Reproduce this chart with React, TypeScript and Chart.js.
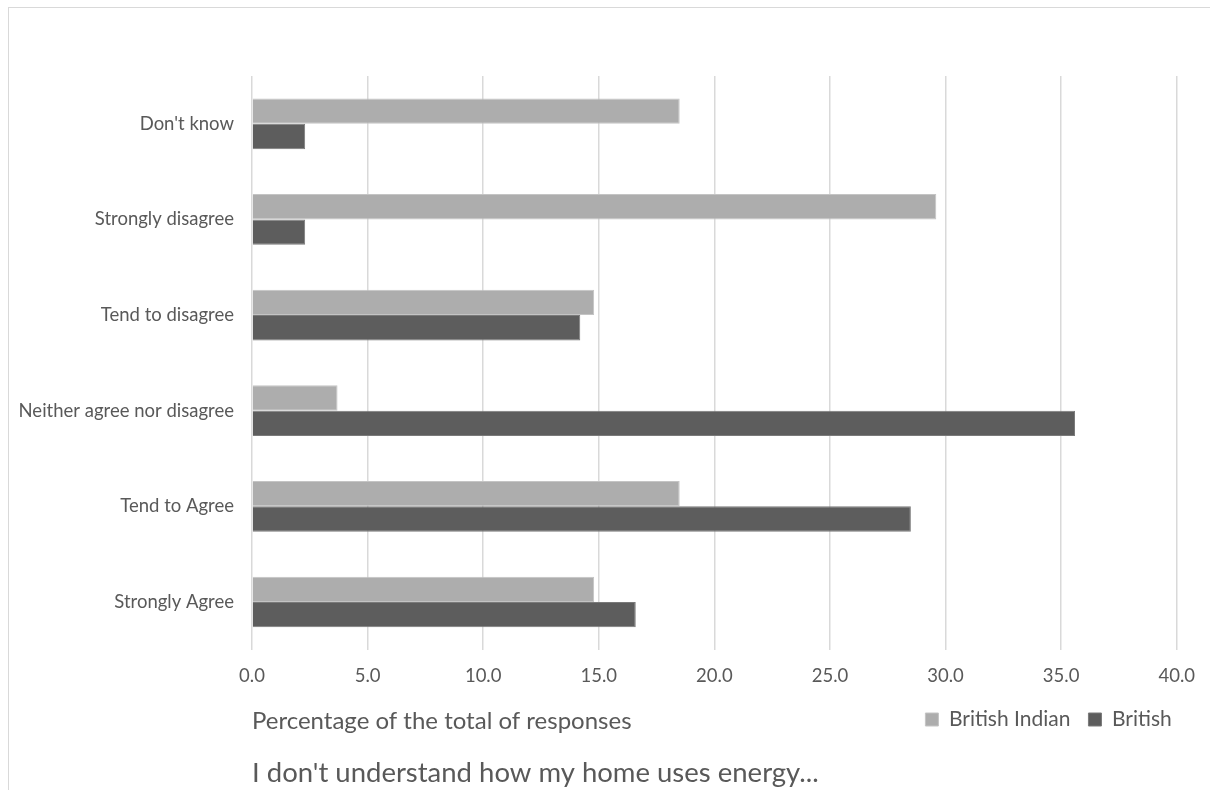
import React, { useEffect, useRef } from "react";
import { Chart, registerables } from "chart.js";

Chart.register(...registerables);

const categories = [
  "Don't know",
  "Strongly disagree",
  "Tend to disagree",
  "Neither agree nor disagree",
  "Tend to Agree",
  "Strongly Agree",
];
const britishIndian = [18.5, 29.6, 14.8, 3.7, 18.5, 14.8];
const british = [2.3, 2.3, 14.2, 35.6, 28.5, 16.6];
const seriesNames = ["British Indian", "British"];
const xAxisTitle = "Percentage of the total of responses";
const chartTitle = "I don't understand how my home uses energy...";

const FONT = "Lato, 'Open Sans', sans-serif";
const TEXT = "#595959";

export default function App() {
  const ref = useRef<HTMLCanvasElement | null>(null);

  useEffect(() => {
    if (!ref.current) return;
    const axisTitlePlugin = {
      id: "axisTitleOnLegendLine",
      afterLayout(chart: any) {
        const lg = chart.legend;
        if (lg) {
          lg.left += 13;
          lg.right += 13;
        }
      },
      afterDraw(chart: any) {
        const lg = chart.legend;
        if (!lg || !lg.legendHitBoxes || !lg.legendHitBoxes.length) return;
        const hb = lg.legendHitBoxes[0];
        const ctx = chart.ctx;
        ctx.save();
        ctx.font = `24px ${FONT}`;
        ctx.fillStyle = TEXT;
        ctx.textAlign = "left";
        ctx.textBaseline = "middle";
        ctx.fillText(xAxisTitle, chart.chartArea.left, hb.top + hb.height / 2 + 2);
        ctx.restore();
      },
    };
    const chart = new Chart(ref.current, {
      type: "bar",
      data: {
        labels: categories,
        datasets: [
          {
            label: seriesNames[0],
            data: britishIndian,
            backgroundColor: "#adadad",
            borderColor: "#c4c4c4",
            borderWidth: 1,
            categoryPercentage: 0.53,
            barPercentage: 1,
          },
          {
            label: seriesNames[1],
            data: british,
            backgroundColor: "#5d5d5d",
            borderColor: "#7a7a7a",
            borderWidth: 1,
            categoryPercentage: 0.53,
            barPercentage: 1,
          },
        ],
      },
      plugins: [axisTitlePlugin],
      options: {
        indexAxis: "y",
        animation: false,
        responsive: false,
        maintainAspectRatio: false,
        layout: { padding: { top: 68, right: 33, left: 0, bottom: 0 } },
        scales: {
          x: {
            min: 0,
            max: 40,
            ticks: {
              stepSize: 5,
              color: TEXT,
              font: { family: FONT, size: 18.5 },
              padding: 15,
              callback: (v: any) => Number(v).toFixed(1),
            },
            grid: { color: "#d9d9d9", lineWidth: 1.5, drawTicks: false },
            border: { display: false },
            afterFit: (s: any) => {
              s.height = s.height - 11;
            },
          },
          y: {
            ticks: {
              color: TEXT,
              font: { family: FONT, size: 18.5 },
              padding: 18,
            },
            grid: { display: false, drawTicks: false },
            border: { display: false },
            afterFit: (s: any) => {
              s.width = 243;
            },
          },
        },
        plugins: {
          legend: {
            position: "bottom",
            align: "end",
            fullSize: false,
            labels: {
              color: TEXT,
              font: { family: FONT, size: 21 },
              boxWidth: 13,
              boxHeight: 13,
              padding: 18,
              useBorderRadius: false,
            },
          },
          title: {
            display: true,
            text: chartTitle,
            position: "bottom",
            align: "start",
            fullSize: false,
            color: TEXT,
            font: { family: FONT, size: 27.5, weight: "normal" },
            padding: { top: 17, bottom: 0 },
          },
          tooltip: { enabled: false },
        },
      },
    });
    return () => chart.destroy();
  }, []);

  return (
    <div
      style={{
        position: "fixed",
        left: 8,
        top: 7,
        width: 1210,
        height: 800,
        borderLeft: "1px solid #d9d9d9",
        borderTop: "1px solid #d9d9d9",
        background: "#fff",
      }}
    >
      <canvas ref={ref} width={1201} height={782} style={{ display: "block" }} />
    </div>
  );
}
